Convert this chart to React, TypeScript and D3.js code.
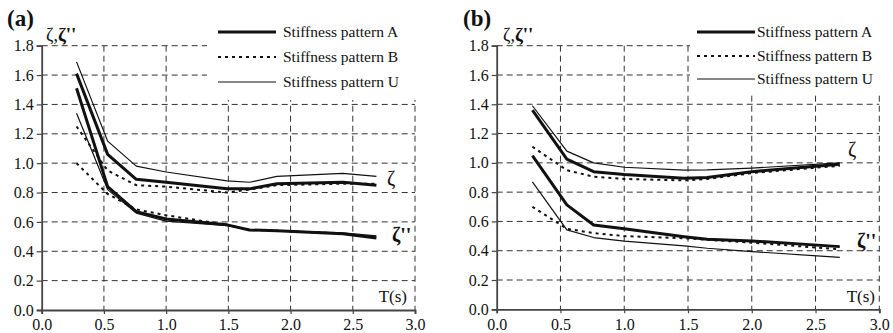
import React, { useEffect, useRef } from "react";
import * as d3 from "d3";

// ---------- Data ----------
const periodsA = [0.28, 0.53, 0.76, 1.0, 1.49, 1.67, 1.89, 2.42, 2.69];
const zetaA_patA = [1.61, 1.06, 0.89, 0.87, 0.825, 0.825, 0.86, 0.87, 0.85];
const zetaA_patB = [1.25, 0.95, 0.85, 0.84, 0.80, 0.82, 0.85, 0.86, 0.86];
const zetaA_patU = [1.69, 1.15, 0.98, 0.94, 0.88, 0.87, 0.91, 0.93, 0.91];
const zetaPA_patA = [1.51, 0.84, 0.67, 0.62, 0.58, 0.545, 0.54, 0.52, 0.49];
const zetaPA_patB = [1.0, 0.79, 0.685, 0.645, 0.58, 0.545, 0.54, 0.52, 0.495];
const zetaPA_patU = [1.34, 0.82, 0.66, 0.605, 0.575, 0.545, 0.54, 0.525, 0.505];

const periodsB = [0.28, 0.55, 0.76, 1.0, 1.47, 1.65, 2.0, 2.69];
const zetaB_patA = [1.36, 1.025, 0.94, 0.92, 0.895, 0.90, 0.94, 0.99];
const zetaB_patB = [1.11, 0.95, 0.905, 0.89, 0.88, 0.89, 0.93, 0.98];
const zetaB_patU = [1.39, 1.08, 1.0, 0.97, 0.95, 0.952, 0.964, 1.0];
const zetaPB_patA = [1.05, 0.713, 0.576, 0.55, 0.496, 0.478, 0.467, 0.428];
const zetaPB_patB = [0.70, 0.55, 0.52, 0.50, 0.485, 0.475, 0.455, 0.41];
const zetaPB_patU = [0.87, 0.542, 0.49, 0.466, 0.433, 0.417, 0.394, 0.355];

const xTicks = [0, 0.5, 1.0, 1.5, 2.0, 2.5, 3.0];
const yTicks = [0, 0.2, 0.4, 0.6, 0.8, 1.0, 1.2, 1.4, 1.6, 1.8];
const legendLabels = ["Stiffness pattern A", "Stiffness pattern B", "Stiffness pattern U"];
const panelLabels = ["(a)", "(b)"];

// ---------- Styles ----------
const FONT = '"Liberation Serif", "DejaVu Serif", serif';
const styles = {
  A: { width: 3, dash: null as string | null },
  B: { width: 2, dash: "3,4" },
  U: { width: 1.2, dash: null as string | null },
};

const panels = [
  {
    label: panelLabels[0],
    periods: periodsA,
    series: [
      { key: "A", v: zetaA_patA }, { key: "B", v: zetaA_patB }, { key: "U", v: zetaA_patU },
      { key: "A", v: zetaPA_patA }, { key: "B", v: zetaPA_patB }, { key: "U", v: zetaPA_patU },
    ],
    layout: {
      x0: 41.7, x1: 415, yTop: 45.7, yBot: 310,
      labelX: 7, labelY: 26,
      titleX: 46, titleY: 41,
      coverX: 207, coverY: 8, coverW: 215, coverH: 92,
      legLineX0: 218, legLineX1: 276, legTextX: 283, legRows: [32, 57, 82],
      zetaX: 387, zetaY: 185, zetaPX: 392, zetaPY: 242,
      tX: 407, tY: 302,
    },
  },
  {
    label: panelLabels[1],
    periods: periodsB,
    series: [
      { key: "A", v: zetaB_patA }, { key: "B", v: zetaB_patB }, { key: "U", v: zetaB_patU },
      { key: "A", v: zetaPB_patA }, { key: "B", v: zetaPB_patB }, { key: "U", v: zetaPB_patU },
    ],
    layout: {
      x0: 496.7, x1: 879.3, yTop: 45.7, yBot: 309.3,
      labelX: 463, labelY: 26,
      titleX: 503, titleY: 41,
      coverX: 690, coverY: 8, coverW: 200, coverH: 84,
      legLineX0: 697, legLineX1: 755, legTextX: 757, legRows: [32, 56, 79],
      zetaX: 848, zetaY: 156, zetaPX: 857, zetaPY: 248,
      tX: 875, tY: 302,
    },
  },
];

export default function App() {
  const ref = useRef<SVGSVGElement | null>(null);

  useEffect(() => {
    const svg = d3.select(ref.current);
    svg.selectAll("*").remove();
    svg.append("rect").attr("width", 893).attr("height", 333).attr("fill", "#fff");

    panels.forEach((p) => {
      const L = p.layout;
      const g = svg.append("g");
      const x = d3.scaleLinear().domain([0, 3]).range([L.x0, L.x1]);
      const y = d3.scaleLinear().domain([0, 1.8]).range([L.yBot, L.yTop]);

      // grid
      const grid = g.append("g").attr("stroke", "#333").attr("stroke-width", 1)
        .attr("stroke-dasharray", "6,4").attr("fill", "none");
      yTicks.filter((t) => t > 0).forEach((t) => {
        grid.append("line").attr("x1", x(0)).attr("x2", x(3))
          .attr("y1", y(t)).attr("y2", y(t));
      });
      xTicks.filter((t) => t > 0).forEach((t) => {
        grid.append("line").attr("x1", x(t)).attr("x2", x(t))
          .attr("y1", y(1.8)).attr("y2", y(0));
      });

      // legend cover
      g.append("rect").attr("x", L.coverX).attr("y", L.coverY)
        .attr("width", L.coverW).attr("height", L.coverH).attr("fill", "#fff");

      // axes
      const ax = g.append("g").attr("transform", `translate(0,${y(0)})`)
        .call(d3.axisBottom(x).tickValues(xTicks).tickFormat(d3.format(".1f")).tickSize(4).tickPadding(5));
      const ay = g.append("g").attr("transform", `translate(${x(0)},0)`)
        .call(d3.axisLeft(y).tickValues(yTicks).tickFormat(d3.format(".1f")).tickSize(5).tickPadding(3));
      [ax, ay].forEach((a) => {
        a.attr("font-family", null).attr("font-size", null);
        a.select(".domain").attr("stroke", "#444").attr("stroke-width", 1.8);
        a.selectAll(".tick line").attr("stroke", "#444").attr("stroke-width", 1.2);
        a.selectAll("text").style("font-family", FONT).style("font-size", "16px").attr("fill", "#111");
      });

      // series
      const line = d3.line<number>().x((_, i) => x(p.periods[i])).y((d) => y(d));
      p.series.forEach((s) => {
        const st = (styles as any)[s.key];
        g.append("path").datum(s.v).attr("d", line as any)
          .attr("fill", "none").attr("stroke", "#111")
          .attr("stroke-width", st.width)
          .attr("stroke-dasharray", st.dash)
          .attr("stroke-linejoin", "round");
      });

      const txt = (sel: any, size: number) =>
        sel.style("font-family", FONT).style("font-size", `${size}px`).attr("fill", "#111");

      // legend
      (["A", "B", "U"] as const).forEach((k, i) => {
        const st = styles[k];
        g.append("line").attr("x1", L.legLineX0).attr("x2", L.legLineX1)
          .attr("y1", L.legRows[i]).attr("y2", L.legRows[i])
          .attr("stroke", "#111").attr("stroke-width", st.width)
          .attr("stroke-dasharray", st.dash);
        txt(g.append("text").attr("x", L.legTextX).attr("y", L.legRows[i] + 5), 15.5)
          .text(legendLabels[i]);
      });

      // panel label
      txt(g.append("text").attr("x", L.labelX).attr("y", L.labelY), 23)
        .style("font-weight", "bold").text(p.label);

      // axis title
      const tt = txt(g.append("text").attr("x", L.titleX).attr("y", L.titleY), 18);
      tt.append("tspan").text("ζ,");
      tt.append("tspan").style("font-weight", "bold").style("font-size", "19px").text("ζ''");

      // curve labels
      txt(g.append("text").attr("x", L.zetaX).attr("y", L.zetaY), 20).text("ζ");
      txt(g.append("text").attr("x", L.zetaPX).attr("y", L.zetaPY), 20)
        .style("font-weight", "bold").text("ζ''");

      // T(s)
      txt(g.append("text").attr("x", L.tX).attr("y", L.tY).attr("text-anchor", "end"), 17)
        .text("T(s)");
    });
  }, []);

  return (
    <svg ref={ref} width={893} height={333}
      style={{ position: "absolute", left: 0, top: 0, display: "block" }} />
  );
}
